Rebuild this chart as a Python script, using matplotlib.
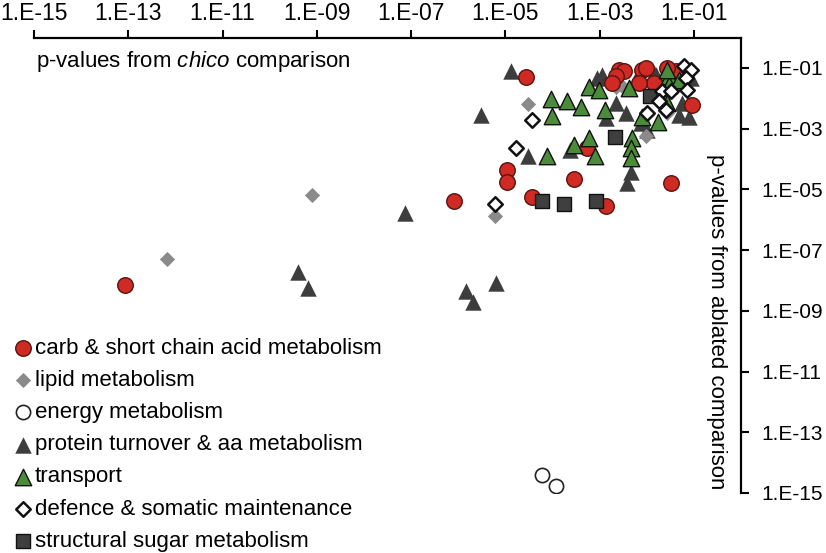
import matplotlib
matplotlib.use('Agg')
import matplotlib.pyplot as plt
import numpy as np
from matplotlib.ticker import FixedLocator, FuncFormatter, NullLocator

plt.rcParams['font.family'] = 'Liberation Sans'
plt.rcParams['mathtext.fontset'] = 'custom'
plt.rcParams['mathtext.it'] = 'Liberation Sans:italic'
plt.rcParams['mathtext.rm'] = 'Liberation Sans'

# p-values: x = chico comparison, y = ablated comparison
carb_x = [8.5e-14, 8.3e-7, 2.8e-5, 1.1e-5, 1.1e-5, 2.9e-4, 3.3e-2, 3.7e-5, 1.4e-3, 5.5e-4,
          2.6e-3, 3.3e-3, 2.2e-3, 1.8e-3, 7.9e-3, 9.7e-3, 4.1e-2, 1.4e-2, 9.1e-2, 6.9e-3, 2.7e-2]
carb_y = [7.1e-9, 4.2e-6, 5.0e-2, 4.4e-5, 1.7e-5, 2.2e-5, 1.6e-5, 5.6e-6, 2.8e-6, 2.3e-4,
          8.5e-2, 7.9e-2, 5.4e-2, 3.2e-2, 8.5e-2, 1.0e-1, 7.9e-2, 3.2e-2, 6.0e-3, 3.2e-2, 1.0e-1]

lipid_x = [6.6e-13, 8.1e-10, 5.9e-6, 3.1e-5, 2.2e-3, 3.0e-3, 9.7e-3, 4.9e-2, 2.7e-2]
lipid_y = [5.1e-8, 6.6e-6, 1.3e-6, 6.4e-3, 2.3e-2, 2.6e-2, 5.8e-4, 3.0e-2, 3.3e-3]

energy_x = [6.0e-5, 1.2e-4]
energy_y = [3.9e-15, 1.7e-15]

protein_x = [3.9e-10, 6.5e-10, 7.6e-8, 1.5e-6, 2.1e-6, 6.2e-6, 1.3e-5, 3.1e-6, 3.0e-5, 2.3e-4,
             4.7e-3, 3.8e-3, 8.9e-4, 1.1e-3, 2.2e-3, 3.6e-3, 1.4e-3, 7.5e-3, 6.9e-3, 1.4e-2,
             2.6e-2, 4.9e-2, 7.9e-2, 5.6e-2, 1.0e-2, 1.6e-2, 8.7e-2]
protein_y = [1.9e-8, 5.6e-9, 1.7e-6, 4.5e-9, 2.0e-9, 8.3e-9, 7.9e-2, 2.8e-3, 1.3e-4, 2.0e-4,
             3.7e-5, 1.6e-5, 4.7e-2, 5.9e-2, 7.1e-3, 3.3e-3, 2.2e-3, 1.5e-3, 6.8e-2, 6.8e-2,
             8.5e-2, 2.8e-3, 2.4e-3, 7.1e-3, 9.1e-4, 5.9e-2, 4.7e-2]

transport_x = [9.3e-5, 2.0e-4, 4.1e-4, 1.0e-4, 6.0e-4, 9.8e-4, 4.3e-3, 1.3e-3, 7.8e-5, 6.0e-4,
               2.9e-4, 7.8e-4, 4.9e-3, 4.7e-3, 4.7e-3, 7.9e-3, 1.7e-2, 2.7e-2, 3.0e-2, 3.0e-2,
               2.7e-2, 4.9e-2]
transport_y = [9.5e-3, 8.1e-3, 5.1e-3, 2.6e-3, 2.3e-2, 1.9e-2, 2.2e-2, 4.2e-3, 1.3e-4, 4.9e-4,
               2.9e-4, 1.3e-4, 4.9e-4, 2.3e-4, 1.1e-4, 2.4e-3, 1.7e-3, 7.1e-3, 5.4e-2, 2.8e-2,
               8.5e-2, 4.0e-2]

defence_x = [5.9e-6, 1.7e-5, 3.7e-5, 6.2e-2, 8.7e-2, 6.8e-2, 7.2e-2, 2.1e-2, 3.3e-2, 1.8e-2,
             1.0e-2, 2.6e-2]
defence_y = [3.3e-6, 2.3e-4, 1.9e-3, 1.15e-1, 8.5e-2, 4.7e-2, 1.9e-2, 1.7e-2, 1.7e-2, 8.1e-3,
             3.3e-3, 4.2e-3]

struct_x = [6.0e-5, 1.8e-4, 8.5e-4, 2.1e-3, 1.2e-2]
struct_y = [4.2e-6, 3.3e-6, 4.2e-6, 5.3e-4, 1.2e-2]

fig = plt.figure(figsize=(8.26, 5.53), dpi=100)
ax = fig.add_axes([34/826, 1-493/553, (741-34)/826, (493-37.6)/553])
ax.set_xscale('log')
ax.set_yscale('log')

h_protein = ax.scatter(protein_x, protein_y, marker='^', s=140, c='#3d3d3d', linewidths=0, zorder=2)
h_lipid = ax.scatter(lipid_x, lipid_y, marker='D', s=60, c='#8a8a8a', linewidths=0, zorder=3)
h_carb = ax.scatter(carb_x, carb_y, marker='o', s=125, c='#d02a25', edgecolors='#5a1410', linewidths=1.0, zorder=4)
h_transport = ax.scatter(transport_x, transport_y, marker='^', s=140, c='#4b8c3a', edgecolors='#111111', linewidths=1.0, zorder=5)
h_struct = ax.scatter(struct_x, struct_y, marker='s', s=105, c='#3f3f3f', edgecolors='#111111', linewidths=1.0, zorder=6)
h_defence = ax.scatter(defence_x, defence_y, marker='D', s=55, c='white', edgecolors='#111111', linewidths=1.8, zorder=7)
h_energy = ax.scatter(energy_x, energy_y, marker='o', s=105, c='white', edgecolors='#222222', linewidths=1.2, zorder=8)

ax.set_xlim(1e-15, 1)
ax.set_ylim(1e-15, 1)

for s in ['left', 'bottom']:
    ax.spines[s].set_visible(False)
for s in ['top', 'right']:
    ax.spines[s].set_linewidth(1.6)

ax.xaxis.set_ticks_position('top')
ax.yaxis.set_ticks_position('right')
ticks = 10.0 ** np.arange(-15, 0, 2)
ax.xaxis.set_major_locator(FixedLocator(ticks))
ax.yaxis.set_major_locator(FixedLocator(ticks))
ax.xaxis.set_minor_locator(NullLocator())
ax.yaxis.set_minor_locator(NullLocator())
fmt = FuncFormatter(lambda v, p: '1.E%03d' % int(round(np.log10(v))))
ax.xaxis.set_major_formatter(fmt)
ax.yaxis.set_major_formatter(fmt)
ax.tick_params(direction='out', length=6, width=1.5)
ax.tick_params(axis='x', pad=3, labelsize=16.5)
ax.tick_params(axis='y', pad=9, labelsize=15)

fig.text(36/826, 1-62/553, 'p-values from $\\mathit{chico}$ comparison', fontsize=16, ha='left', va='center')
fig.text(717/826, 1-322/553, 'p-values from ablated comparison', fontsize=16, rotation=270,
         ha='center', va='center')

handles = [h_carb, h_lipid, h_energy, h_protein, h_transport, h_defence, h_struct]
labels = ['carb & short chain acid metabolism', 'lipid metabolism', 'energy metabolism',
          'protein turnover & aa metabolism', 'transport', 'defence & somatic maintenance',
          'structural sugar metabolism']
fig.legend(handles, labels, loc='upper left', bbox_to_anchor=(15/826, 1-338/553), frameon=False,
           fontsize=16, handlelength=0.7, handletextpad=0.2, labelspacing=0.5, borderpad=0,
           borderaxespad=0, scatterpoints=1)

fig.savefig('out.png', dpi=100)
